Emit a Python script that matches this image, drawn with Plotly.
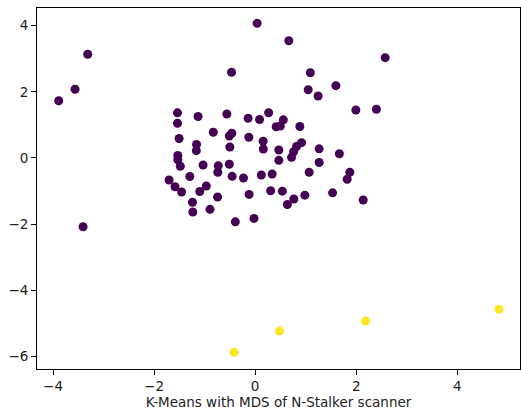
import plotly.graph_objects as go

# MDS coordinates of the scanned pages, grouped by K-Means cluster
cluster0_x = [-3.887, -3.564, -3.313, 0.040, 0.667, 2.574, -0.467, 1.093, 1.050, 1.246,
              1.598, 1.994, 2.400, -3.406, -1.537, -1.537, -1.129, -0.560, -0.139, 0.087,
              0.267, 0.558, 0.416, 0.499, 0.885, -0.828, -0.511, -0.461, -0.125, 0.158,
              0.162, -1.505, -1.160, -1.164, -0.501, 0.469, 0.469, 0.919, 0.820, 0.762,
              0.721, 1.267, 1.267, 1.667, -1.531, -1.531, -1.481, -1.030, -0.729, -0.739,
              -0.511, -0.455, -0.230, 0.123, 0.337, 1.069, 1.875, 1.822, -1.293, -1.703,
              -1.586, -1.455, -1.095, -0.966, -0.743, -0.119, 0.307, 0.539, 0.766, 0.638,
              0.984, 1.533, 2.139, -1.240, -1.234, -0.893, -0.392, -0.022]
cluster0_y = [1.730, 2.075, 3.134, 4.071, 3.545, 3.031, 2.589, 2.577, 2.060, 1.872,
              2.184, 1.449, 1.470, -2.081, 1.364, 1.047, 1.252, 1.328, 1.198, 1.162,
              1.367, 1.152, 0.941, 0.965, 0.950, 0.777, 0.662, 0.747, 0.626, 0.502,
              0.269, 0.587, 0.405, 0.218, 0.330, 0.239, -0.073, 0.460, 0.345, 0.185,
              0.018, 0.275, -0.139, 0.127, 0.073, -0.057, -0.254, -0.215, -0.236, -0.433,
              -0.191, -0.557, -0.608, -0.517, -0.487, -0.433, -0.433, -0.647, -0.563, -0.668,
              -0.871, -1.031, -1.016, -0.850, -1.183, -1.104, -0.992, -1.007, -1.243, -1.410,
              -1.128, -1.056, -1.273, -1.343, -1.636, -1.555, -1.933, -1.830]

cluster1_x = [-0.416, 0.483, 2.186, 4.826]
cluster1_y = [-5.880, -5.236, -4.933, -4.580]

x_ticks = [-4, -2, 0, 2, 4]
y_ticks = [-6, -4, -2, 0, 2, 4]

fig = go.Figure()
fig.add_trace(go.Scatter(x=cluster0_x, y=cluster0_y, mode="markers",
                         marker=dict(color="#440154", size=9, line=dict(width=0)),
                         showlegend=False))
fig.add_trace(go.Scatter(x=cluster1_x, y=cluster1_y, mode="markers",
                         marker=dict(color="#fde725", size=9, line=dict(width=0)),
                         showlegend=False))

axis_common = dict(showgrid=False, zeroline=False, showline=True, mirror=True,
                   linecolor="black", linewidth=1, ticks="outside", ticklen=5,
                   tickwidth=1, tickcolor="black",
                   tickfont=dict(family="DejaVu Sans", size=13.5, color="#222222"))

fig.update_layout(
    width=521, height=416,
    margin=dict(l=37, r=1, t=8, b=47),
    paper_bgcolor="white", plot_bgcolor="white",
    xaxis=dict(range=[-4.317, 5.242], tickvals=x_ticks,
               title=dict(text="K-Means with MDS of N-Stalker scanner",
                          font=dict(family="DejaVu Sans", size=13.5, color="#222222"),
                          standoff=3),
               **axis_common),
    yaxis=dict(range=[-6.385, 4.534], tickvals=y_ticks, **axis_common),
)

fig.write_html("out.html")
